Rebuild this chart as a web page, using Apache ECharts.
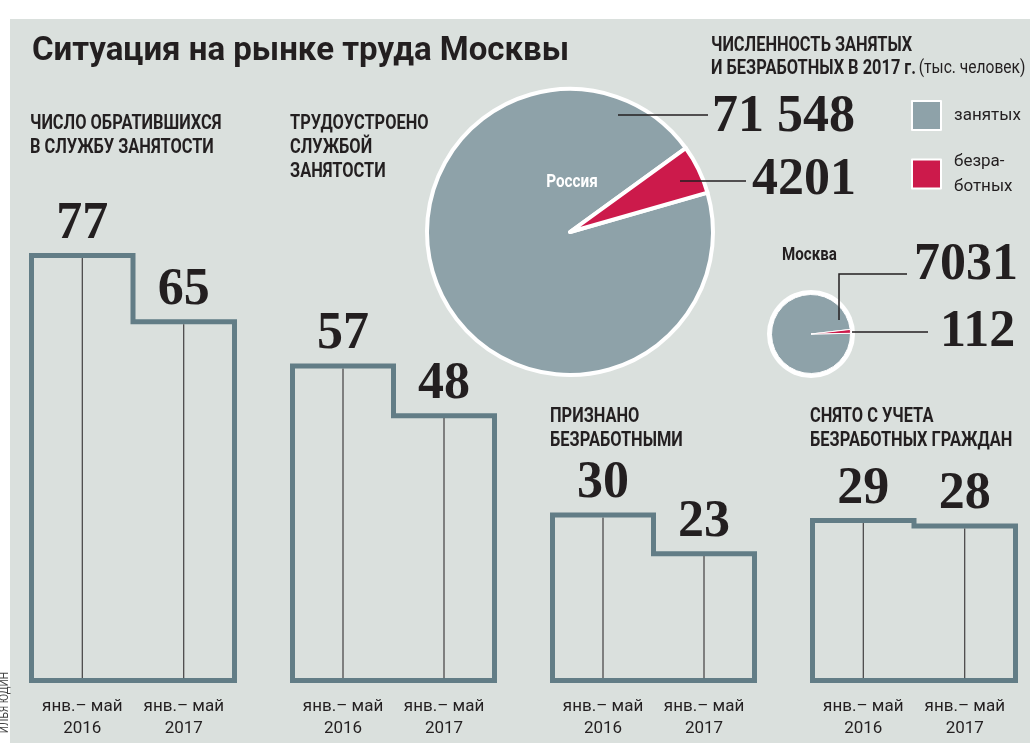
<!DOCTYPE html>
<html>
<head>
<meta charset="utf-8">
<script src="https://cdn.jsdelivr.net/npm/echarts@6/dist/echarts.min.js"></script>
<style>
  html, body { margin: 0; padding: 0; background: #fff; }
  #chart { width: 1030px; height: 743px; }
</style>
</head>
<body>
<div id="chart"></div>
<script>
// data
var periods = ['янв.– май\n2016', 'янв.– май\n2017'];
var applied = [77, 65];          // число обратившихся
var placed = [57, 48];           // трудоустроено
var recognized = [30, 23];       // признано безработными
var deregistered = [29, 28];
var groupTitles = [
    'ЧИСЛО ОБРАТИВШИХСЯ\nВ СЛУЖБУ ЗАНЯТОСТИ',
    'ТРУДОУСТРОЕНО\nСЛУЖБОЙ\nЗАНЯТОСТИ',
    'ПРИЗНАНО\nБЕЗРАБОТНЫМИ',
    'СНЯТО С УЧЕТА\nБЕЗРАБОТНЫХ ГРАЖДАН'
];
var pieNames = ['занятых', 'безработных'];
var russia = [71548, 4201];
var moscow = [7031, 112];

var groups = [applied, placed, recognized, deregistered];
var gridLeft = [31.5, 292.5, 552.5, 812.5];
var gridWidth = [203, 202, 202, 203];

var bg = '#dae0dd';
var ink = '#231f20';
var outline = '#627d86';
var grey = '#8ea2a9';
var red = '#cc1a4b';
var sans = "Roboto, sans-serif";
var serif = "'Liberation Serif', 'DejaVu Serif', serif";
var lw = 5;
var squeeze = 0.82;   // no condensed font installed, so headings get narrowed

function fmt(n) {
    var s = String(n);
    return n >= 10000 ? s.slice(0, s.length - 3) + ' ' + s.slice(-3) : s;
}

var dom = document.getElementById('chart');
var myChart = echarts.init(dom, null, {renderer: 'canvas'});

var grids = [], xAxes = [], yAxes = [], series = [];
groups.forEach(function (vals, gi) {
    grids.push({left: gridLeft[gi], width: gridWidth[gi], top: 239, height: 441.6});
    xAxes.push({
        type: 'category', gridIndex: gi, data: periods,
        axisLine: {show: false}, axisTick: {show: false},
        axisLabel: {interval: 0, margin: 15, fontFamily: sans, fontSize: 17, lineHeight: 22, color: ink}
    });
    yAxes.push({type: 'value', gridIndex: gi, min: 0, max: 80, show: false});
    // invisible bars only carry the value labels
    series.push({
        type: 'bar', xAxisIndex: gi, yAxisIndex: gi, data: vals, barWidth: '100%',
        silent: true, itemStyle: {color: 'rgba(0,0,0,0)'},
        label: {show: true, position: 'top', distance: 5, fontFamily: serif, fontWeight: 'bold', fontSize: 52, color: ink}
    });
    // step outline + thin middle lines
    series.push({
        type: 'custom', xAxisIndex: gi, yAxisIndex: gi, silent: true,
        data: vals.map(function (v, i) { return [i, v]; }),
        renderItem: function (params, api) {
            var i = params.dataIndex;
            var bw = api.size([1, 0])[0];
            var top = api.coord([i, api.value(1)]);
            var base = api.coord([i, 0]);
            var children = [{
                type: 'line',
                shape: {x1: top[0], y1: top[1] + lw / 2, x2: top[0], y2: base[1] - lw / 2},
                style: {stroke: ink, lineWidth: 1}
            }];
            if (i === 0) {
                var pts = [[base[0] - bw / 2, base[1]]];
                vals.forEach(function (v, k) {
                    var p = api.coord([k, v]);
                    pts.push([p[0] - bw / 2, p[1]], [p[0] + bw / 2, p[1]]);
                });
                var last = api.coord([vals.length - 1, 0]);
                pts.push([last[0] + bw / 2, last[1]]);
                children.push({
                    type: 'polygon', shape: {points: pts},
                    style: {fill: 'none', stroke: outline, lineWidth: lw, lineJoin: 'miter'}
                });
            }
            return {type: 'group', children: children};
        }
    });
});

series.push({
    type: 'pie', name: 'Россия', center: [570, 232], radius: 143, startAngle: 16,
    silent: true, label: {show: false}, labelLine: {show: false},
    itemStyle: {borderColor: '#fff', borderWidth: 4},
    data: [
        {name: pieNames[0], value: russia[0], itemStyle: {color: grey}},
        {name: pieNames[1], value: russia[1], itemStyle: {color: red}}
    ]
});
// white disc under the small pie gives it the thick ring
series.push({
    type: 'pie', center: [811, 334], radius: 44, silent: true, z: 1,
    label: {show: false}, labelLine: {show: false}, legendHoverLink: false,
    itemStyle: {color: '#fff'}, data: [{name: 'ring', value: 1}]
});
series.push({
    type: 'pie', name: 'Москва', center: [811, 334], radius: 39.5, startAngle: 1, z: 2,
    silent: true, label: {show: false}, labelLine: {show: false},
    itemStyle: {borderColor: '#fff', borderWidth: 1},
    data: [
        {name: pieNames[0], value: moscow[0], itemStyle: {color: grey}},
        {name: pieNames[1], value: moscow[1], itemStyle: {color: red}}
    ]
});

function txt(x, y, text, font, opts) {
    opts = opts || {};
    return {
        type: 'text', x: x, y: y, z: 10, rotation: opts.rotation || 0, scaleX: opts.scaleX || 1,
        style: {
            text: text, font: font, fill: opts.fill || ink,
            textAlign: opts.align || 'left', textVerticalAlign: opts.valign || 'middle',
            lineHeight: opts.lineHeight
        }
    };
}
function leader(points) {
    return {type: 'polyline', z: 10, shape: {points: points}, style: {stroke: ink, lineWidth: 1.5, fill: null}};
}

var headFont = "bold 20px " + sans;
var bigNum = "bold 52px " + serif;
var head = {valign: 'top', lineHeight: 24, scaleX: squeeze};
var graphic = [
    {type: 'rect', z: -10, shape: {x: 10, y: 19, width: 1020, height: 724}, style: {fill: bg}},
    txt(32, 52, 'Ситуация на рынке труда Москвы', "bold 33px " + sans),
    txt(30, 112, groupTitles[0], headFont, head),
    txt(290, 112, groupTitles[1], headFont, head),
    txt(550, 405, groupTitles[2], headFont, head),
    txt(810, 405, groupTitles[3], headFont, head),
    {
        type: 'text', x: 711, y: 34, z: 10, scaleX: squeeze,
        style: {
            text: '{b|ЧИСЛЕННОСТЬ ЗАНЯТЫХ}\n{b|И БЕЗРАБОТНЫХ В 2017 г.} {n|(тыс. человек)}',
            textVerticalAlign: 'top',
            rich: {
                b: {fontFamily: sans, fontWeight: 'bold', fontSize: 20, lineHeight: 23, fill: ink},
                n: {fontFamily: sans, fontSize: 19, lineHeight: 23, fill: ink}
            }
        }
    },
    txt(572, 182, 'Россия', "bold 18px " + sans, {fill: '#fff', align: 'center', scaleX: 0.85}),
    txt(782, 255, 'Москва', "bold 18px " + sans, {scaleX: 0.84}),
    leader([[618, 115], [708, 115]]),
    leader([[680, 181], [746, 181]]),
    leader([[839, 320], [839, 274], [907, 274]]),
    leader([[852, 332], [928, 332]]),
    txt(712, 118, fmt(russia[0]), bigNum),
    txt(752, 181, fmt(russia[1]), bigNum),
    txt(914, 266, fmt(moscow[0]), bigNum),
    txt(940, 333, fmt(moscow[1]), bigNum),
    txt(5, 672, 'ИЛЬЯ ЮДИН', "12px " + sans, {rotation: Math.PI / 2, align: 'right', fill: '#444', scaleX: 0.85})
];

var option = {
    animation: false,
    backgroundColor: '#fff',
    legend: {
        orient: 'vertical', left: 911, top: 100, padding: 0, itemWidth: 29, itemHeight: 29, itemGap: 18,
        icon: 'rect', selectedMode: false, data: pieNames,
        formatter: function (name) { return name === 'безработных' ? 'безра-\nботных' : name; },
        textStyle: {fontFamily: sans, fontSize: 17, lineHeight: 25, color: ink, padding: [0, 0, 0, 8]}
    },
    grid: grids,
    xAxis: xAxes,
    yAxis: yAxes,
    series: series,
    graphic: graphic
};
myChart.setOption(option);
</script>
</body>
</html>
